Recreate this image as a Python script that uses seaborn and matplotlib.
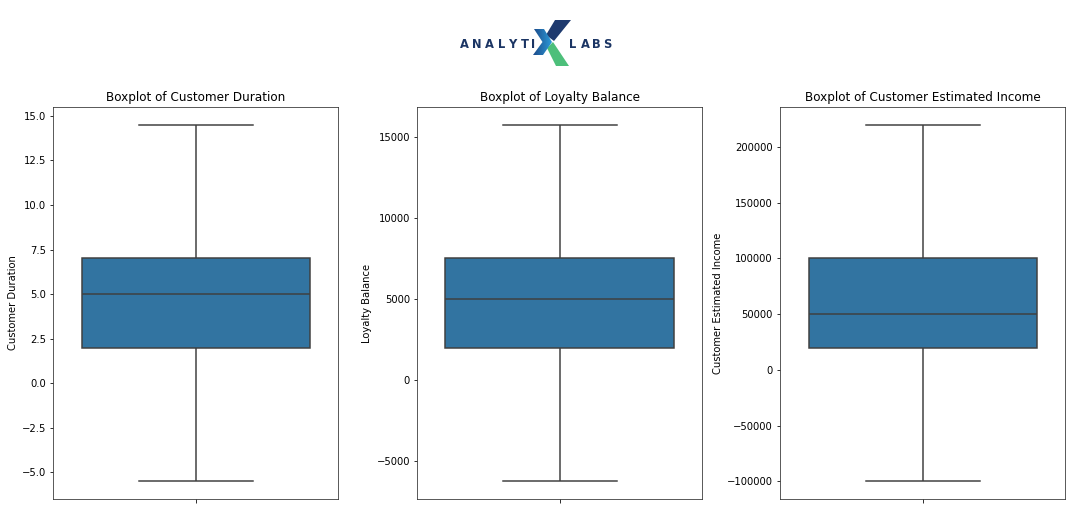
import numpy as np
import pandas as pd
import matplotlib
matplotlib.use("Agg")
import matplotlib.pyplot as plt
from matplotlib.patches import Polygon
import seaborn as sns

# ---- data ----
customer_duration = [-5.5, 2, 2, 5, 7, 7, 14.5]
loyalty_balance = [-6250, 2000, 2000, 5000, 7500, 7500, 15750]
estimated_income = [-100000, 20000, 20000, 50000, 100000, 100000, 220000]

titles = ["Boxplot of Customer Duration", "Boxplot of Loyalty Balance",
          "Boxplot of Customer Estimated Income"]
ylabels = ["Customer Duration", "Loyalty Balance", "Customer Estimated Income"]
series = [customer_duration, loyalty_balance, estimated_income]

W, H, DPI = 1072, 510, 72
fig = plt.figure(figsize=(W / DPI, H / DPI), dpi=DPI)
plt.rcParams['font.family'] = ['DejaVu Sans']

lefts = [53, 417, 780]
for left, vals, t, yl in zip(lefts, series, titles, ylabels):
    ax = fig.add_axes([left / W, 11 / H, 285 / W, 392 / H])
    sns.boxplot(y=vals, ax=ax, linewidth=1.5)
    ax.set_title(t)
    ax.set_ylabel(yl)
    for s in ax.spines.values():
        s.set_color("#333333")

# ---- logo ----
lax = fig.add_axes([0, 0, 1, 1], zorder=5)
lax.set_xlim(0, W)
lax.set_ylim(H, 0)
lax.axis("off")
navy = "#1b3564"
letters1 = list("ANALYTI")
xs1 = [464.5, 477, 489.5, 501.5, 512.5, 524.5, 533]
letters2 = list("LABS")
xs2 = [573, 585.5, 596.5, 607.5]
for ch, x in zip(letters1 + letters2, xs1 + xs2):
    lax.text(x, 47.5, ch, ha="center", va="baseline", fontsize=11.5,
             fontweight="bold", color=navy)

navy_poly = Polygon([(555, 20), (571, 20), (554, 41), (546, 35)],
                    closed=True, color="#1e3a6e", lw=0)
lax.add_patch(navy_poly)
green_poly = Polygon([(547, 48), (553, 42), (569, 66), (556, 66)],
                     closed=True, color="#4dbf7a", lw=0)
lax.add_patch(green_poly)
blue_pts = [(534, 29), (544, 29), (552, 42), (543, 55), (533, 55), (542.5, 42)]
blue_poly = Polygon(blue_pts, closed=True, facecolor="none", lw=0)
lax.add_patch(blue_poly)
grad = np.linspace(0, 1, 64)[None, :]
cmap = matplotlib.colors.LinearSegmentedColormap.from_list("b", ["#1c4a8a", "#2c9ad8"])
im = lax.imshow(grad, extent=(533, 552, 55, 29), cmap=cmap, aspect="auto", zorder=4)
im.set_clip_path(blue_poly)
lax.set_xlim(0, W)
lax.set_ylim(H, 0)

fig.savefig("out.png", dpi=DPI)
